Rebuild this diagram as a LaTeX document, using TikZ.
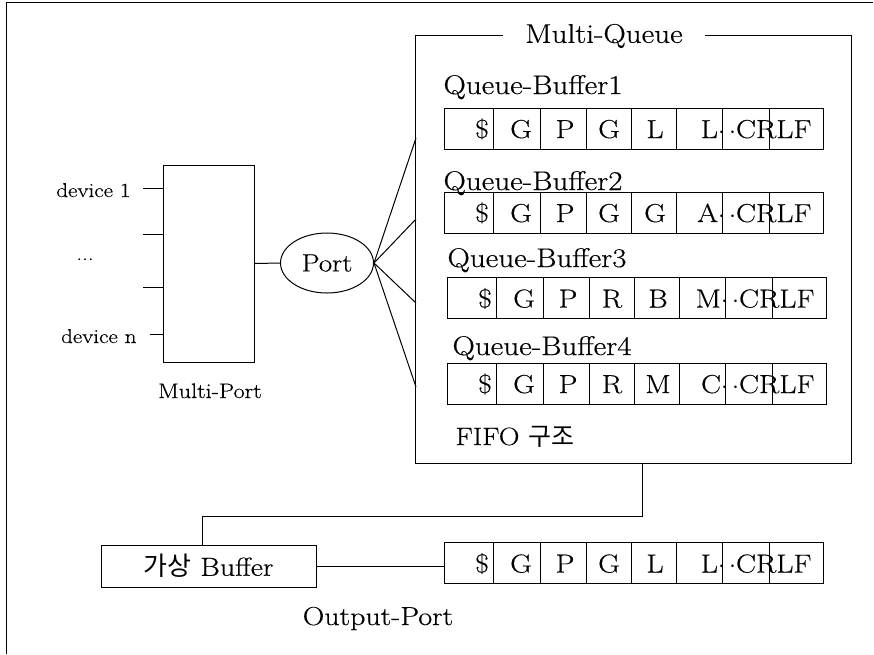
\documentclass[tikz,border=0pt]{standalone}
\usepackage{fontspec}
\setmainfont{Latin Modern Roman}[FakeStretch=1.15, FakeBold=0.4]
\newfontfamily\kr{Noto Sans CJK KR}
\usetikzlibrary{shapes.geometric}
\tikzset{
  box/.style={draw, inner sep=0pt},
  fs/.style={font=\fontsize{#1}{#1}\selectfont, inner sep=0pt},
  cell/.style={fs=26},
}
\newcommand{\qrow}[5]{%
  \node[box, minimum width=379, minimum height=41] (#1) at (633.5+#3,#2) {};
  \foreach \xd in {494,541,587,632,677,723,770}
    \draw ([xshift=\xd-444]#1.north west) -- ([xshift=\xd-444]#1.south west);
  \foreach \c [count=\i] in {#4} {%
    \pgfmathsetmacro\xc{{482,521,565,609,655}[\i-1]}
    \node[cell, anchor=base] (#1c\i) at (\xc+#3, #2+9.5) {\c};
  }
  \node[cell, anchor=base east] (#1last) at (812+#3, #2+9.5) {#5${\cdot}\,{\cdot}$CRLF};
}
\begin{document}
\begin{tikzpicture}[x=1pt, y=-1pt, line width=1pt]
\useasboundingbox (0,0) rectangle (874,654);
% outer frame
\draw (6,654) -- (6,2) -- (873,2);

% Multi-Port
\node[box, minimum width=91, minimum height=197] (mp) at (208.5,263.5) {};
\coordinate (d1) at (143,188);
\coordinate (d2) at (143,234);
\coordinate (d3) at (143,287);
\coordinate (dn) at (150,334);
\draw (d1) -- (d1 -| mp.west);
\draw (d2) -- (d2 -| mp.west);
\draw (d3) -- (d3 -| mp.west);
\draw (dn) -- (dn -| mp.west);
\node[fs=20, anchor=base east] (ld1) at (131,197) {device 1};
\node[fs=20, anchor=base] (ldots) at (85,260) {...};
\node[fs=20, anchor=base east] (ldn) at (137,343) {device n};
\node[fs=21, anchor=base] (lmp) at (210,398) {Multi-Port};

% Port
\node[draw, ellipse, minimum width=93, minimum height=60, fs=25] (port) at (327,263) {Port};
\draw (mp.east) -- (port.west);

% Multi-Queue box
\node[box, minimum width=436, minimum height=428] (mq) at (633,249) {};
\node[fs=27, fill=white, inner xsep=22pt, inner ysep=2pt] (mqt) at (604,36) {Multi-Queue};
\coordinate (e1) at (416,138);
\coordinate (e2) at (416,219);
\coordinate (e3) at (416,303);
\coordinate (e4) at (416,387);
\foreach \e in {e1,e2,e3,e4} \draw (port.east) -- (\e);

% queue buffers
\node[fs=27, anchor=base west] (qb1) at (443,94) {Queue-Buffer1};
\qrow{r1}{128.5}{0}{\$,G,P,G,L}{L}
\node[fs=27, anchor=base west] (qb2) at (443,190) {Queue-Buffer2};
\qrow{r2}{212.5}{0}{\$,G,P,G,G}{A}
\node[fs=27, anchor=base west] (qb3) at (447,267) {Queue-Buffer3};
\qrow{r3}{298}{3}{\$,G,P,R,B}{M}
\node[fs=27, anchor=base west] (qb4) at (452,355) {Queue-Buffer4};
\qrow{r4}{383.5}{3}{\$,G,P,R,M}{C}
\node[fs=25, anchor=base west] (fifo) at (455,445) {FIFO {\kr 구조}};

% virtual buffer and output
\node[box, minimum width=215, minimum height=42, fs=26] (buf) at (208.5,566) {{\kr 가상} Buffer};
\coordinate (j1) at (642,516);
\draw (mq.south -| j1) -- (j1) -| ([xshift=-6.5pt]buf.north);
\qrow{orow}{563}{0}{\$,G,P,G,L}{L}
\draw (buf.east) -- (buf.east -| orow.west);
\node[fs=26, anchor=base] (op) at (378,625) {Output-Port};
\end{tikzpicture}
\end{document}
